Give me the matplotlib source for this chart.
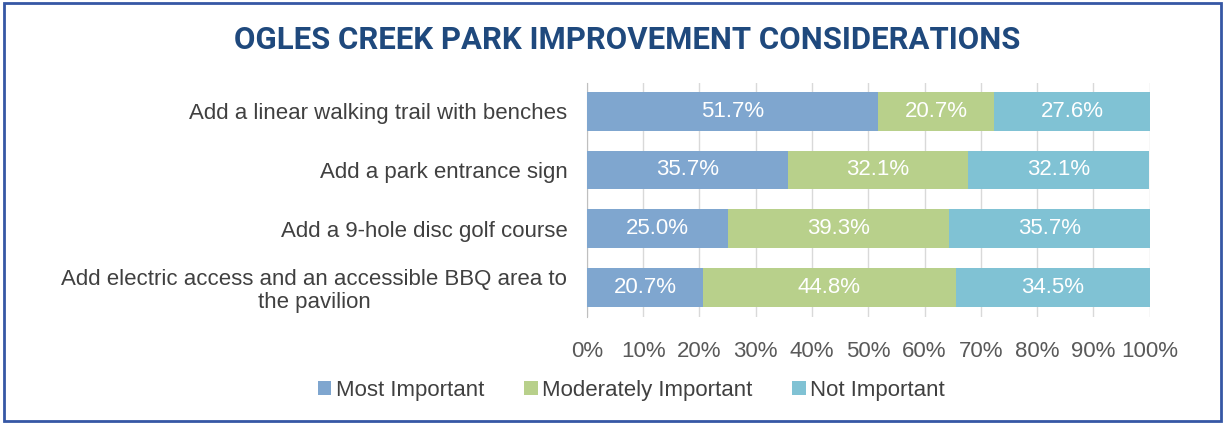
import matplotlib.pyplot as plt
from matplotlib.patches import Rectangle
import numpy as np

# Survey data (percent of respondents)
categories = [
    "Add a linear walking trail with benches",
    "Add a park entrance sign",
    "Add a 9-hole disc golf course",
    "Add electric access and an accessible BBQ area to\nthe pavilion",
]
most_important = [51.7, 35.7, 25.0, 20.7]
moderately_important = [20.7, 32.1, 39.3, 44.8]
not_important = [27.6, 32.1, 35.7, 34.5]
series_names = ["Most Important", "Moderately Important", "Not Important"]
colors = ["#7FA6CF", "#B8D08B", "#80C2D4"]
xticks = np.arange(0, 101, 10)

plt.rcParams['font.family'] = ['Liberation Sans', 'DejaVu Sans']

fig = plt.figure(figsize=(12.25, 4.23), dpi=100)
ax = fig.add_axes([0.479, 0.2506, 0.4596, 0.5533])

y = np.arange(len(categories))
left = np.zeros(len(categories))
for vals, name, col in zip([most_important, moderately_important, not_important], series_names, colors):
    vals = np.array(vals)
    bars = ax.barh(y, vals, left=left, height=0.66, color=col, label=name, zorder=3)
    for b, v in zip(bars, vals):
        ax.text(b.get_x() + b.get_width() / 2, b.get_y() + b.get_height() / 2,
                f"{v:.1f}%", ha='center', va='center', color='white', fontsize=16, zorder=4)
    left += vals

ax.set_xlim(0, 100)
ax.set_ylim(3.5, -0.48)
ax.set_xticks(xticks)
ax.set_xticklabels([f"{t}%" for t in xticks])
ax.set_yticks(y)
ax.set_yticklabels(categories, fontsize=16, color='#404040', linespacing=1.15)
for lab in ax.get_yticklabels():
    lab.set_multialignment('center')
ax.tick_params(axis='x', labelsize=16, labelcolor='#595959', length=0, pad=17)
ax.tick_params(axis='y', length=0, pad=14)
ax.grid(axis='x', color='#D9D9D9', linewidth=1, zorder=0)
for s in ['top', 'right', 'bottom']:
    ax.spines[s].set_visible(False)
ax.spines['left'].set_color('#BFBFBF')

fig.text(0.512, 0.905, "OGLES CREEK PARK IMPROVEMENT CONSIDERATIONS", ha='center', va='center',
         fontsize=22.4, fontweight='bold', color='#1F497D', family=['Roboto', 'DejaVu Sans'])

fig.legend(loc='center', bbox_to_anchor=(0.5155, 0.078), ncol=3, frameon=False, fontsize=16,
           handlelength=0.6, handleheight=0.6, handletextpad=0.2, columnspacing=1.8,
           labelcolor='#404040')

fig.patches.append(Rectangle((0.003, 0.005), 0.994, 0.988, transform=fig.transFigure,
                             fill=False, edgecolor='#3657A5', linewidth=2))

fig.savefig("out.png", dpi=100)
